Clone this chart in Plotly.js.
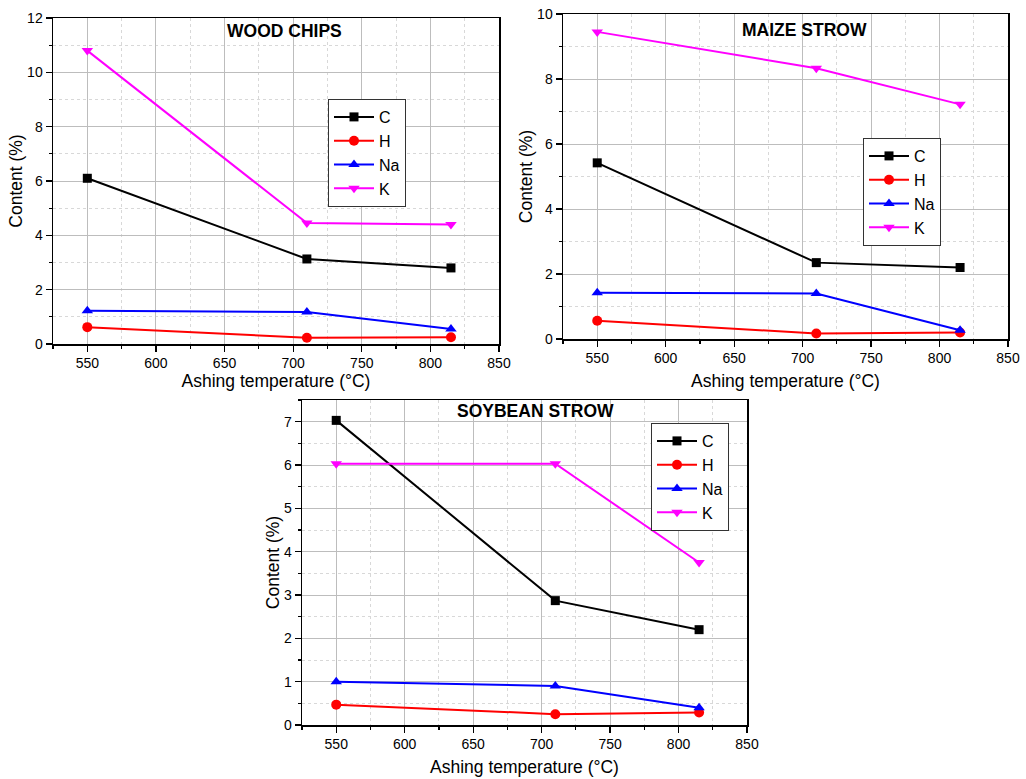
<!DOCTYPE html>
<html>
<head>
<meta charset="utf-8">
<script src="https://cdn.plot.ly/plotly-3.0.1.min.js"></script>
<style>html,body{margin:0;padding:0;background:#fff}</style>
</head>
<body>
<div id="chart" style="width:1026px;height:779px"></div>
<script>
const temps = [550, 710, 815];
const seriesNames = ["C", "H", "Na", "K"];
const panelTitles = ["WOOD CHIPS", "MAIZE STROW", "SOYBEAN STROW"];

const woodC = [6.1, 3.13, 2.8];
const woodH = [0.62, 0.23, 0.25];
const woodNa = [1.22, 1.18, 0.55];
const woodK = [10.8, 4.45, 4.4];

const maizeC = [5.42, 2.35, 2.2];
const maizeH = [0.56, 0.17, 0.2];
const maizeNa = [1.42, 1.4, 0.27];
const maizeK = [9.45, 8.33, 7.22];

const soyC = [7.03, 2.87, 2.2];
const soyH = [0.47, 0.25, 0.29];
const soyNa = [1.0, 0.9, 0.4];
const soyK = [6.03, 6.03, 3.75];

const colors = ["#000000", "#ff0000", "#0000ff", "#ff00ff"];
const symbols = ["square", "circle", "triangle-up", "triangle-down"];

const panels = [
  [woodC, woodH, woodNa, woodK],
  [maizeC, maizeH, maizeNa, maizeK],
  [soyC, soyH, soyNa, soyK]
];
const axSuffix = ["", "2", "3"];
const legendIds = ["legend", "legend2", "legend3"];

const traces = [];
panels.forEach((p, pi) => {
  p.forEach((vals, si) => {
    traces.push({
      x: temps, y: vals, name: seriesNames[si],
      type: "scatter", mode: "lines+markers",
      xaxis: "x" + axSuffix[pi], yaxis: "y" + axSuffix[pi],
      legend: legendIds[pi],
      line: {color: colors[si], width: 2},
      marker: {color: colors[si], symbol: symbols[si], size: si === 0 ? 9 : 10}
    });
  });
});

const font = "Liberation Sans, Arial, sans-serif";
function xax(domain, anchor, standoff) {
  return {
    domain: domain, anchor: anchor, range: [525, 850],
    tickvals: [550, 600, 650, 700, 750, 800, 850],
    ticks: "outside", ticklen: 6, tickwidth: 1.2, tickcolor: "#000",
    showline: true, linecolor: "#000", linewidth: 1.5, mirror: true,
    showgrid: true, gridcolor: "#bdbdbd", gridwidth: 1,
    zeroline: false,
    minor: {dtick: 25, tick0: 525, ticks: "outside", ticklen: 3, tickcolor: "#000", showgrid: true, gridcolor: "#d8d8d8", griddash: "dot", gridwidth: 1},
    tickfont: {family: font, size: 14, color: "#000"},
    title: {text: "Ashing temperature (°C)", font: {family: font, size: 17.5, color: "#000"}, standoff: standoff}
  };
}
function yax(domain, anchor, range, dtick, minorD) {
  return {
    domain: domain, anchor: anchor, range: range, dtick: dtick, tick0: 0,
    ticks: "outside", ticklen: 6, tickwidth: 1.2, tickcolor: "#000",
    showline: true, linecolor: "#000", linewidth: 1.5, mirror: true,
    showgrid: true, gridcolor: "#bdbdbd", gridwidth: 1,
    zeroline: false,
    minor: {dtick: minorD, tick0: 0, ticks: "outside", ticklen: 3, tickcolor: "#000", showgrid: true, gridcolor: "#d8d8d8", griddash: "dot", gridwidth: 1},
    tickfont: {family: font, size: 14, color: "#000"},
    title: {text: "Content (%)", font: {family: font, size: 17.5, color: "#000"}, standoff: 0}
  };
}
function leg(x, y) {
  return {
    x: x, y: y, xanchor: "left", yanchor: "top",
    bgcolor: "#fff", bordercolor: "#333", borderwidth: 1,
    font: {family: font, size: 16, color: "#000"},
    tracegroupgap: 0, itemwidth: 40
  };
}

const W = 1026, H = 779;
const titleFont = {family: font, size: 17.5, color: "#000"};
const layout = {
  width: W, height: H,
  margin: {l: 0, r: 0, t: 0, b: 0},
  paper_bgcolor: "#fff", plot_bgcolor: "#fff",
  showlegend: true,
  xaxis: xax([53 / W, 499 / W], "y", 2),
  yaxis: yax([1 - 344 / H, 1 - 18 / H], "x", [0, 12], 2, 1),
  xaxis2: xax([563 / W, 1008 / W], "y2", 9),
  yaxis2: yax([1 - 339 / H, 1 - 14 / H], "x2", [0, 10], 2, 1),
  xaxis3: xax([302 / W, 747 / W], "y3", 9),
  yaxis3: yax([1 - 725 / H, 1 - 400 / H], "x3", [0, 7.5], 1, 0.5),
  legend: leg(328 / W, 1 - 99 / H),
  legend2: leg(863 / W, 1 - 138 / H),
  legend3: leg(651 / W, 1 - 423 / H),
  annotations: [
    {text: "<b>" + panelTitles[0] + "</b>", x: 284 / W, y: 1 - 31 / H, xref: "paper", yref: "paper", xanchor: "center", yanchor: "middle", showarrow: false, font: titleFont},
    {text: "<b>" + panelTitles[1] + "</b>", x: 804 / W, y: 1 - 30 / H, xref: "paper", yref: "paper", xanchor: "center", yanchor: "middle", showarrow: false, font: titleFont},
    {text: "<b>" + panelTitles[2] + "</b>", x: 535 / W, y: 1 - 411 / H, xref: "paper", yref: "paper", xanchor: "center", yanchor: "middle", showarrow: false, font: titleFont}
  ]
};

Plotly.newPlot("chart", traces, layout, {displayModeBar: false, staticPlot: true});
</script>
</body>
</html>
